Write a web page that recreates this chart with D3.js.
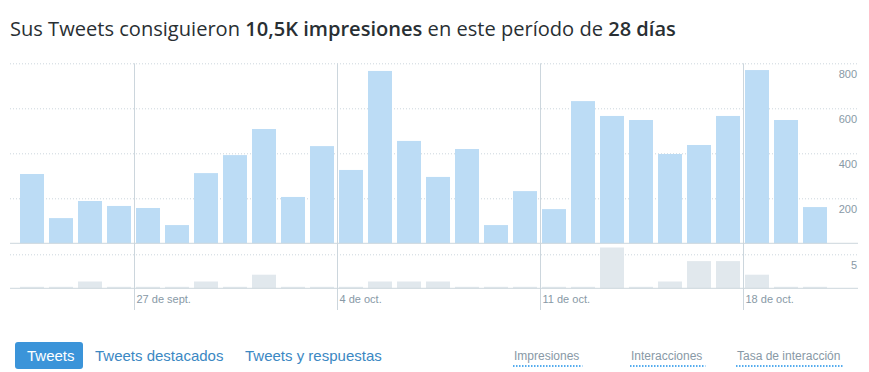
<!DOCTYPE html>
<html>
<head>
<meta charset="utf-8">
<script src="https://cdn.jsdelivr.net/npm/d3@7"></script>
<style>
  body { margin: 0; background: #fff; }
  svg { display: block; }
</style>
</head>
<body>
<svg id="chart"></svg>
<script>
const width = 869;
const height = 372;

// data: 23 sept. .. 20 oct.
const days = d3.range(28);
const impressions = [308, 112, 188, 166, 157, 81, 312, 392, 508, 206,
                     432, 326, 766, 455, 295, 419, 81, 232, 152, 632,
                     566, 548, 397, 437, 566, 770, 548, 161];
const engagements = [0, 0, 1, 0, 0, 0, 1, 0, 2, 0,
                     0, 0, 1, 1, 1, 0, 0, 0, 0, 0,
                     6, 0, 1, 4, 4, 2, 0, 0];
const weekStarts = [4, 11, 18, 25];
const weekLabels = ['27 de sept.', '4 de oct.', '11 de oct.', '18 de oct.'];
const impTicks = [200, 400, 600, 800];
const engTicks = [5];
const tabs = ['Tweets', 'Tweets destacados', 'Tweets y respuestas'];
const metrics = ['Impresiones', 'Interacciones', 'Tasa de interacción'];

const grid = '#ccd6dd';
const muted = '#8899a6';

const svg = d3.select('#chart')
  .attr('width', width)
  .attr('height', height);

// title
const title = svg.append('text')
  .attr('x', 10)
  .attr('y', 36)
  .style('font-family', '"Open Sans", sans-serif')
  .style('font-size', '21px')
  .attr('fill', '#292f33');
title.append('tspan').text('Sus Tweets consiguieron ');
title.append('tspan').attr('font-weight', 600).text('10,5K impresiones');
title.append('tspan').text(' en este período de ');
title.append('tspan').attr('font-weight', 600).text('28 días');
// fit to the width of the original title
const tw = title.node().getComputedTextLength();
title.style('font-size', `${21 * 666 / tw}px`);

// scales
const x = d3.scaleBand()
  .domain(days)
  .range([17.5, 829.5])
  .paddingInner(5 / 29)
  .paddingOuter(5 / 58);
const gap = (x.step() - x.bandwidth()) / 2;

const yImp = d3.scaleLinear().domain([0, 800]).range([243.3, 63.3]);
const yEng = d3.scaleLinear().domain([0, 5]).range([288.3, 254.3]);

const left = 10;
const right = 857;

// gridlines + labels via axes
const drawAxis = (scale, ticks) => {
  const g = svg.append('g')
    .attr('transform', `translate(${right},0)`)
    .call(d3.axisLeft(scale).tickValues(ticks).tickSize(right - left).tickFormat(d3.format('d')));
  g.select('.domain').remove();
  g.selectAll('.tick line')
    .attr('stroke', grid)
    .attr('stroke-dasharray', '1,2');
  g.selectAll('.tick text')
    .attr('x', 0)
    .attr('dy', 14)
    .attr('text-anchor', 'end')
    .attr('fill', muted)
    .style('font-family', '"Liberation Sans", Arial, sans-serif')
    .style('font-size', '11px');
};
drawAxis(yImp, impTicks);
drawAxis(yEng, engTicks);

// week separators
svg.append('g')
  .selectAll('line')
  .data(weekStarts)
  .join('line')
    .attr('x1', d => Math.round(x(d) - gap) + 0.5)
    .attr('x2', d => Math.round(x(d) - gap) + 0.5)
    .attr('y1', yImp(800))
    .attr('y2', 310)
    .attr('stroke', grid);

svg.append('g')
  .selectAll('text')
  .data(weekStarts)
  .join('text')
    .attr('x', d => x(d) - gap + 3)
    .attr('y', 303)
    .attr('fill', muted)
    .style('font-family', '"Liberation Sans", Arial, sans-serif')
    .style('font-size', '11px')
    .text((d, i) => weekLabels[i]);

// impressions bars
svg.append('g')
  .selectAll('rect')
  .data(impressions)
  .join('rect')
    .attr('x', (d, i) => x(i))
    .attr('width', x.bandwidth())
    .attr('y', d => yImp(d))
    .attr('height', d => yImp(0) - yImp(d))
    .attr('fill', '#bcdcf5');

// engagement bars (zero shown as a thin stub)
svg.append('g')
  .selectAll('rect')
  .data(engagements)
  .join('rect')
    .attr('x', (d, i) => x(i))
    .attr('width', x.bandwidth())
    .attr('y', d => Math.min(yEng(d), yEng(0) - 1.5))
    .attr('height', d => Math.max(1.5, yEng(0) - yEng(d)))
    .attr('fill', '#e1e8ed');

// baselines
[yImp(0), yEng(0)].forEach(y => {
  svg.append('line')
    .attr('x1', left).attr('x2', right + 1)
    .attr('y1', y).attr('y2', y)
    .attr('stroke', grid);
});

// tabs
const tabX = [27, 95, 245];
svg.append('rect')
  .attr('x', 15).attr('y', 342)
  .attr('width', 68).attr('height', 27)
  .attr('rx', 3)
  .attr('fill', '#3b94d9');
svg.append('g')
  .selectAll('text')
  .data(tabs)
  .join('text')
    .attr('x', (d, i) => tabX[i])
    .attr('y', 361)
    .attr('fill', (d, i) => i === 0 ? '#fff' : '#3b88c3')
    .style('font-family', '"Liberation Sans", Arial, sans-serif')
    .style('font-size', '15px')
    .text(d => d);

// metric switches
const metricX = [514, 631, 737];
const m = svg.append('g')
  .selectAll('g')
  .data(metrics)
  .join('g')
    .attr('transform', (d, i) => `translate(${metricX[i]},0)`);
m.append('text')
  .attr('y', 360)
  .attr('fill', muted)
  .style('font-family', '"Liberation Sans", Arial, sans-serif')
  .style('font-size', '12px')
  .text(d => d);
m.each(function () {
  const g = d3.select(this);
  const w = g.select('text').node().getComputedTextLength();
  g.append('line')
    .attr('x1', -1).attr('x2', w + 3)
    .attr('y1', 366).attr('y2', 366)
    .attr('stroke', '#55acee')
    .attr('stroke-width', 2)
    .attr('stroke-dasharray', '1.5,1.5');
});
</script>
</body>
</html>
